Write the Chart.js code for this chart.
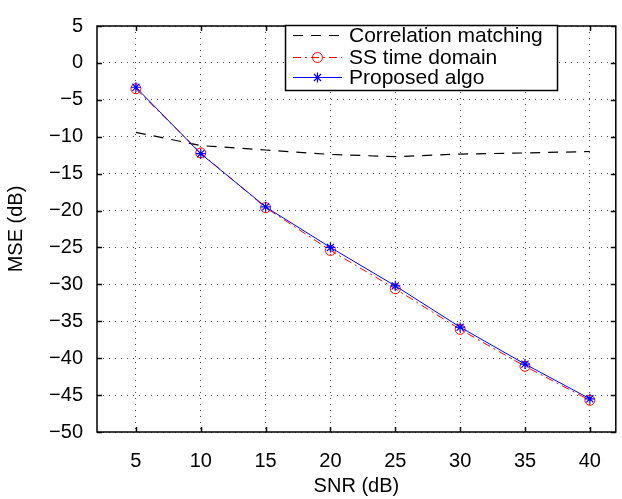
<!DOCTYPE html>
<html>
<head>
<meta charset="utf-8">
<title>MSE vs SNR</title>
<script src="https://cdn.jsdelivr.net/npm/chart.js@4.4.1/dist/chart.umd.min.js"></script>
<style>
  html, body { margin: 0; padding: 0; background: #fff; }
  canvas { display: block; }
</style>
</head>
<body>
<canvas id="mseChart" width="622" height="499"></canvas>
<script>
// values
const snr = [5, 10, 15, 20, 25, 30, 35, 40];
const corrMatching = [-9.4, -11.2, -11.8, -12.4, -12.7, -12.35, -12.2, -12.0];
const ssTimeDomain = [-3.5, -12.2, -19.6, -25.4, -30.6, -36.1, -41.1, -45.7];
const proposedAlgo = [-3.3, -12.3, -19.5, -25.0, -30.2, -35.8, -40.8, -45.5];
const seriesNames = ['Correlation matching', 'SS time domain', 'Proposed algo'];
const xTicks = [5, 10, 15, 20, 25, 30, 35, 40];
const yTicks = [5, 0, -5, -10, -15, -20, -25, -30, -35, -40, -45, -50];

const fontFamily = "'Liberation Sans', Arial, Helvetica, sans-serif";
Chart.defaults.font.family = fontFamily;
Chart.defaults.color = '#000';

function minusLabel(v) {
    return v < 0 ? '\u2212' + Math.abs(v) : String(v);
}

function drawMarker(ctx, style, x, y, r) {
    ctx.beginPath();
    if (style === 'circle') {
        ctx.arc(x, y, r, 0, Math.PI * 2);
    } else if (style === 'star') {
        const d = r * Math.SQRT1_2;
        ctx.moveTo(x - r, y); ctx.lineTo(x + r, y);
        ctx.moveTo(x, y - r); ctx.lineTo(x, y + r);
        ctx.moveTo(x - d, y - d); ctx.lineTo(x + d, y + d);
        ctx.moveTo(x - d, y + d); ctx.lineTo(x + d, y - d);
    }
    ctx.stroke();
}

// box, inner tick marks and the boxed legend like the matlab figure
const framePlugin = {
    id: 'frame',
    afterDraw(chart) {
        const { ctx, chartArea: a, scales: { x, y } } = chart;
        ctx.save();
        ctx.strokeStyle = '#000';
        ctx.lineWidth = 1.5;
        ctx.setLineDash([]);
        ctx.beginPath();
        ctx.rect(a.left, a.top, a.right - a.left, a.bottom - a.top);
        xTicks.forEach(v => {
            const px = Math.round(x.getPixelForValue(v)) + 0.5;
            ctx.moveTo(px, a.bottom); ctx.lineTo(px, a.bottom - 5);
            ctx.moveTo(px, a.top); ctx.lineTo(px, a.top + 5);
        });
        yTicks.forEach(v => {
            const py = Math.round(y.getPixelForValue(v)) + 0.5;
            ctx.moveTo(a.left, py); ctx.lineTo(a.left + 5, py);
            ctx.moveTo(a.right, py); ctx.lineTo(a.right - 5, py);
        });
        ctx.stroke();

        // legend
        const box = { left: 285.5, top: 25.5, right: 557.5, bottom: 90.5 };
        ctx.fillStyle = '#fff';
        ctx.fillRect(box.left, box.top, box.right - box.left, box.bottom - box.top);
        ctx.lineWidth = 1.5;
        ctx.strokeRect(box.left, box.top, box.right - box.left, box.bottom - box.top);
        const rows = [35.5, 57.5, 77.5];
        ctx.font = '21px ' + fontFamily;
        ctx.textBaseline = 'middle';
        chart.data.datasets.forEach((ds, i) => {
            const ry = rows[i];
            ctx.strokeStyle = ds.borderColor;
            ctx.lineWidth = ds.borderWidth;
            ctx.setLineDash(ds.borderDash || []);
            ctx.beginPath();
            ctx.moveTo(293, ry); ctx.lineTo(342, ry);
            ctx.stroke();
            ctx.setLineDash([]);
            if (ds.pointRadius > 0) {
                ctx.lineWidth = ds.pointBorderWidth;
                drawMarker(ctx, ds.pointStyle, 317.5, ry, ds.pointRadius);
            }
            ctx.fillStyle = '#000';
            ctx.fillText(ds.label, 349, ry + 1);
        });
        ctx.restore();
    }
};

const ctx = document.querySelector('#mseChart').getContext('2d');
const mseChart = new Chart(ctx, {
    type: 'line',
    data: {
        labels: snr,
        datasets: [
            {
                label: seriesNames[0],
                data: corrMatching,
                borderColor: '#000',
                borderWidth: 1.2,
                borderDash: [10, 8],
                pointRadius: 0,
                order: 3
            },
            {
                label: seriesNames[1],
                data: ssTimeDomain,
                borderColor: '#ff0000',
                borderWidth: 1,
                borderDash: [8, 4, 2, 4],
                pointStyle: 'circle',
                pointRadius: 5,
                pointBorderWidth: 1,
                pointBorderColor: '#ff0000',
                pointBackgroundColor: 'rgba(0,0,0,0)',
                order: 2
            },
            {
                label: seriesNames[2],
                data: proposedAlgo,
                borderColor: '#0000ff',
                borderWidth: 1,
                pointStyle: 'star',
                pointRadius: 5,
                pointBorderWidth: 1.2,
                pointBorderColor: '#0000ff',
                pointBackgroundColor: '#0000ff',
                order: 1
            }
        ].map(ds => Object.assign({ tension: 0, fill: false }, ds))
    },
    options: {
        responsive: false,
        animation: false,
        layout: { padding: { top: 17, right: 1, left: 0, bottom: 0 } },
        plugins: { legend: { display: false }, tooltip: { enabled: false } },
        scales: {
            x: {
                type: 'linear',
                min: 2,
                max: 42,
                afterBuildTicks: s => { s.ticks = xTicks.map(v => ({ value: v })); },
                afterFit: s => { s.height = 67; },
                ticks: { font: { size: 20 }, padding: 17, callback: minusLabel, maxRotation: 0, autoSkip: false },
                grid: { color: 'rgba(0,0,0,0.7)', lineWidth: 1, drawTicks: false },
                border: { display: false, dash: [1, 5] },
                title: { display: true, text: 'SNR (dB)', font: { size: 20, lineHeight: 1 }, padding: { top: 0, bottom: 3 } }
            },
            y: {
                type: 'linear',
                min: -50,
                max: 5,
                afterBuildTicks: s => { s.ticks = yTicks.map(v => ({ value: v })); },
                afterFit: s => { s.width = 97; },
                ticks: { font: { size: 20 }, padding: 14, callback: minusLabel, autoSkip: false },
                grid: { color: 'rgba(0,0,0,0.7)', lineWidth: 1, drawTicks: false },
                border: { display: false, dash: [1, 5] },
                title: { display: true, text: 'MSE (dB)', font: { size: 20, lineHeight: 1 }, padding: { top: 6, bottom: 0 } }
            }
        }
    },
    plugins: [framePlugin]
});
</script>
</body>
</html>
